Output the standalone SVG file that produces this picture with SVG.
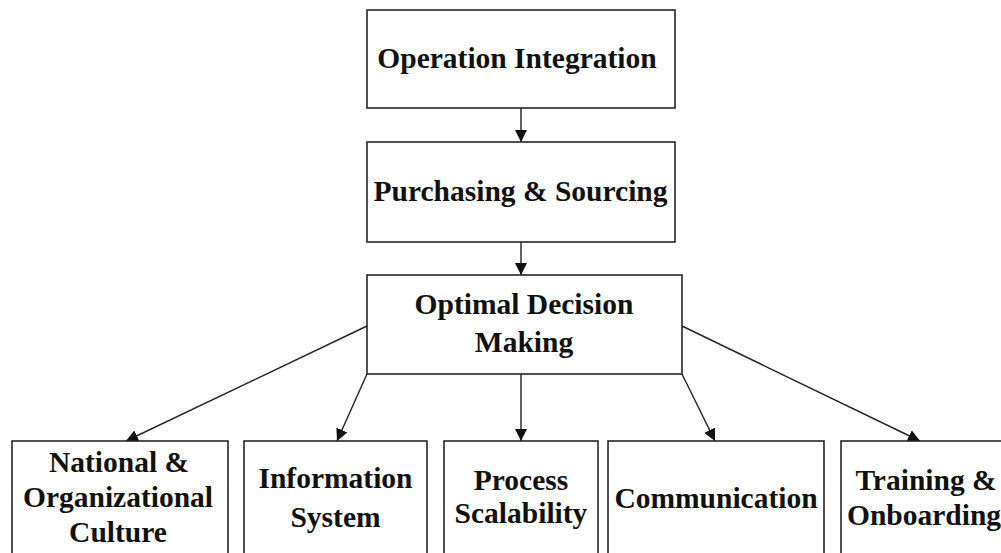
<svg xmlns="http://www.w3.org/2000/svg" width="1001" height="553" viewBox="0 0 1001 553">
<style>
.box{fill:#fff;stroke:#262626;stroke-width:1.6}
.t{font-family:"Liberation Serif","Times New Roman",serif;font-weight:bold;font-size:29.5px;fill:#111;text-anchor:middle}
.c{stroke:#222;stroke-width:1.4;fill:none;marker-end:url(#ah)}
</style>
<defs>
<marker id="ah" viewBox="0 0 12 12" refX="12" refY="6" markerWidth="12" markerHeight="12" markerUnits="userSpaceOnUse" orient="auto">
<path d="M0,0 L12,6 L0,12 Z" fill="#111"/>
</marker>
</defs>
<rect width="1001" height="553" fill="#fff"/>
<g id="connectors">
<line class="c" x1="521" y1="108" x2="521" y2="142"/>
<line class="c" x1="521" y1="242" x2="521" y2="275"/>
<line class="c" x1="367" y1="326" x2="126" y2="441"/>
<line class="c" x1="367" y1="374" x2="337" y2="441"/>
<line class="c" x1="521" y1="374" x2="521" y2="441"/>
<line class="c" x1="682" y1="374" x2="715" y2="441"/>
<line class="c" x1="682" y1="326" x2="920" y2="441"/>
</g>
<g id="n1"><rect class="box" x="367" y="10" width="308" height="98"/><text class="t" x="517" y="68">Operation Integration</text></g>
<g id="n2"><rect class="box" x="367" y="142" width="308" height="100"/><text class="t" x="520.5" y="201">Purchasing &amp; Sourcing</text></g>
<g id="n3"><rect class="box" x="367" y="275" width="315" height="99"/><text class="t" x="524" y="314">Optimal Decision</text><text class="t" x="524" y="352">Making</text></g>
<g id="n4"><rect class="box" x="12" y="441" width="216" height="130"/><text class="t" x="119" y="472">National &amp;</text><text class="t" x="118" y="507">Organizational</text><text class="t" x="118" y="542">Culture</text></g>
<g id="n5"><rect class="box" x="244" y="441" width="183" height="130"/><text class="t" x="335.5" y="488">Information</text><text class="t" x="335.5" y="527">System</text></g>
<g id="n6"><rect class="box" x="444" y="441" width="154" height="130"/><text class="t" x="521" y="490">Process</text><text class="t" x="521" y="523">Scalability</text></g>
<g id="n7"><rect class="box" x="608" y="441" width="216" height="130"/><text class="t" x="716" y="508">Communication</text></g>
<g id="n8"><rect class="box" x="841" y="441" width="170" height="130"/><text class="t" x="926" y="490">Training &amp;</text><text class="t" x="924" y="525">Onboarding</text></g>
</svg>
